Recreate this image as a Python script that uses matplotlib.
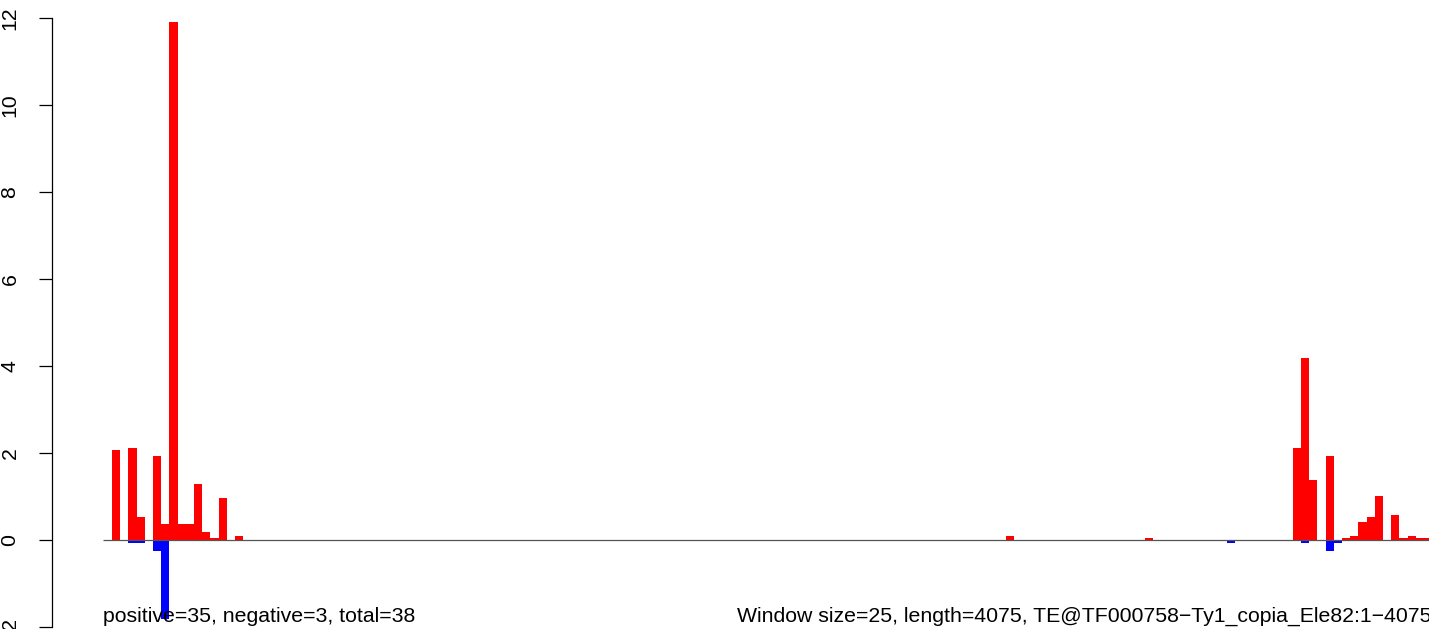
import numpy as np
import matplotlib.pyplot as plt

plt.rcParams['font.family'] = ['Liberation Sans', 'DejaVu Sans']

# 25 bp windows along the element: window index and signal
pos_bins = [0, 2, 3, 5, 6, 7, 8, 9, 10, 11, 12, 13, 15,
            109, 126, 144, 145, 146, 148, 150, 151, 152, 153, 154,
            156, 157, 158, 159, 160]
pos_vals = [2.07, 2.11, 0.53, 1.93, 0.37, 11.9, 0.37, 0.37, 1.29, 0.18, 0.05, 0.97, 0.09,
            0.09, 0.05, 2.11, 4.18, 1.38, 1.93, 0.05, 0.09, 0.41, 0.53, 1.01,
            0.57, 0.05, 0.09, 0.05, 0.05]
neg_bins = [2, 3, 5, 6, 136, 145, 148, 149]
neg_vals = [-0.06, -0.06, -0.25, -1.82, -0.06, -0.06, -0.25, -0.06]

yticks = [-2, 0, 2, 4, 6, 8, 10, 12]
left_note = "positive=35, negative=3, total=38"
right_note = "Window size=25, length=4075, TE@TF000758\u2212Ty1_copia_Ele82:1\u22124075"

W, H = 1429, 629
fig = plt.figure(figsize=(W / 100, H / 100), dpi=100)
ax = fig.add_axes([52 / W, 0, 1 - 52 / W, 1])

# pixel layout: bar 0 starts at x=112, 8.2 px per window; y=0 at 540, 43.5 px per unit
x0, bw = 112, 8.2
y0, yu = 540, 43.5
ax.set_xlim((52 - x0) / bw, (W - x0) / bw)
ax.set_ylim(-(H - y0) / yu, y0 / yu)

ax.bar(pos_bins, pos_vals, width=1, align='edge', color='#ff0000', linewidth=0)
ax.bar(neg_bins, neg_vals, width=1, align='edge', color='#0000ff', linewidth=0)
ax.hlines(0, (103.3 - x0) / bw, (W - x0) / bw, color='#555555', linewidth=0.9)

for s in ['top', 'right', 'bottom']:
    ax.spines[s].set_visible(False)
ax.spines['left'].set_bounds(-2, 12)
ax.spines['left'].set_linewidth(0.9)
ax.set_xticks([])
ax.set_yticks(yticks)
ax.set_yticklabels([str(t) for t in yticks], rotation=90, va='center', fontsize=15.3)
ax.tick_params(axis='y', length=9.4, width=0.9, pad=14)

fig.text(103 / W, (H - 622) / H, left_note, fontsize=15.3, va='baseline', ha='left')
fig.text(737 / W, (H - 622) / H, right_note, fontsize=15.3, va='baseline', ha='left')

fig.savefig('out.png', dpi=100)
